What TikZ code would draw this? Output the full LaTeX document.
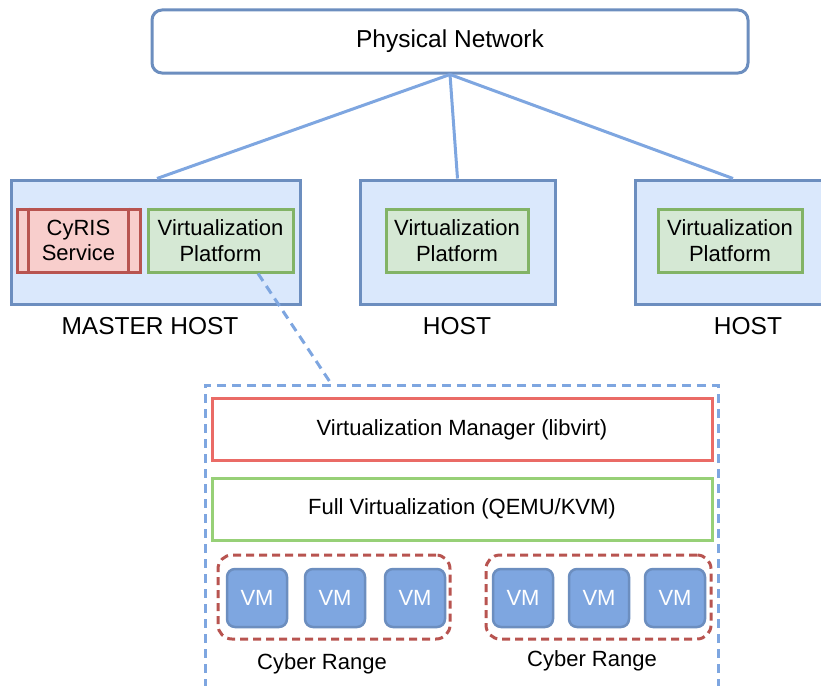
\documentclass[tikz,border=0pt]{standalone}
\usepackage{fontspec}
\setmainfont{Liberation Sans}
\definecolor{blueS}{HTML}{6C8EBF}
\definecolor{blueF}{HTML}{DAE8FC}
\definecolor{redS}{HTML}{B85450}
\definecolor{redF}{HTML}{F8CECC}
\definecolor{greenS}{HTML}{82B366}
\definecolor{greenF}{HTML}{D5E8D4}
\definecolor{lineB}{HTML}{7EA6E0}
\definecolor{redL}{HTML}{EA6B66}
\definecolor{greenL}{HTML}{97D077}
\newcommand{\bigtxt}{\fontsize{24.5}{28}\selectfont}
\newcommand{\midtxt}{\fontsize{22}{25.5}\selectfont}
\tikzset{
  box/.style={rectangle, inner sep=0pt, line width=3pt, align=center, font=\midtxt},
  hostbox/.style={box, draw=blueS, fill=blueF, minimum width=#1, minimum height=124pt},
  vpbox/.style={box, draw=greenS, fill=greenF, minimum width=#1, minimum height=63pt},
  cyrisbox/.style={box, draw=redS, fill=redF, minimum width=123pt, minimum height=63pt},
  layerbox/.style={box, draw=#1, fill=white, minimum width=500pt, minimum height=62pt},
  vmbox/.style={box, draw=blueS, fill=lineB, text=white, rounded corners=8pt, line width=2.5pt, minimum width=60pt, minimum height=58pt},
  rangebox/.style={rectangle, draw=redS, line width=3pt, dash pattern=on 8pt off 5pt, rounded corners=14pt, inner sep=0pt},
  lbl/.style={font=\bigtxt, inner sep=0pt},
  smlbl/.style={font=\midtxt, inner sep=0pt},
  link/.style={draw=lineB, line width=3pt},
}
\begin{document}
\begin{tikzpicture}[x=1pt,y=-1pt]
\useasboundingbox (0,0) rectangle (821,685);
\clip (0,0) rectangle (821,685);
% physical network
\node[box, draw=blueS, fill=white, rounded corners=10pt, minimum width=596pt, minimum height=63pt, font=\bigtxt] (pn) at (450,41.5) {Physical Network};
% hosts
\node[hostbox=289pt] (master) at (155.5,242) {};
\node[hostbox=195pt] (host2) at (457.5,242) {};
\node[hostbox=190pt] (host3) at (730,242) {};
\node[cyrisbox] (cyris) at (78.5,240.5) {CyRIS\\Service};
\draw[redS, line width=3pt] ([xshift=13pt]cyris.north west) -- ([xshift=13pt]cyris.south west);
\draw[redS, line width=3pt] ([xshift=-13pt]cyris.north east) -- ([xshift=-13pt]cyris.south east);
\node[vpbox=145pt] (vp1) at (220.5,240.5) {Virtualization\\Platform};
\node[vpbox=142pt] (vp2) at (457,240.5) {Virtualization\\Platform};
\node[vpbox=144pt] (vp3) at (730,240.5) {Virtualization\\Platform};
\node[lbl] (lm) at (150,326) {MASTER HOST};
\node[lbl] (l2) at (457,326) {HOST};
\node[lbl] (l3) at (748,326) {HOST};
% links
\draw[link] (pn.south) -- ([xshift=1.5pt]master.north);
\draw[link] (pn.south) -- (host2.north);
\draw[link] (pn.south) -- ([xshift=3pt]host3.north);
% container
\node[rectangle, draw=lineB, line width=3pt, dash pattern=on 9pt off 6pt, minimum width=513pt, minimum height=330pt, inner sep=0pt] (cont) at (461.5,550) {};
\coordinate (dend) at (330,382);
\draw[link, dash pattern=on 9pt off 6pt] ([xshift=37.5pt]vp1.south) -- (dend);
% layers
\node[layerbox=redL] (vmgr) at (462,429.5) {Virtualization Manager (libvirt)};
\node[layerbox=greenL] (fullv) at (462,509) {Full Virtualization (QEMU/KVM)};
% cyber ranges
\node[rangebox, minimum width=232pt, minimum height=84pt] (cr1) at (334,597) {};
\node[rangebox, minimum width=225pt, minimum height=84pt] (cr2) at (598.5,597) {};
\node[vmbox] (vm1) at (257,598) {VM};
\node[vmbox] (vm2) at (335,598) {VM};
\node[vmbox] (vm3) at (415,598) {VM};
\node[vmbox] (vm4) at (523,598) {VM};
\node[vmbox] (vm5) at (599,598) {VM};
\node[vmbox] (vm6) at (675,598) {VM};
\node[smlbl] (crl1) at (322,664) {Cyber Range};
\node[smlbl] (crl2) at (592,661) {Cyber Range};
\end{tikzpicture}
\end{document}
